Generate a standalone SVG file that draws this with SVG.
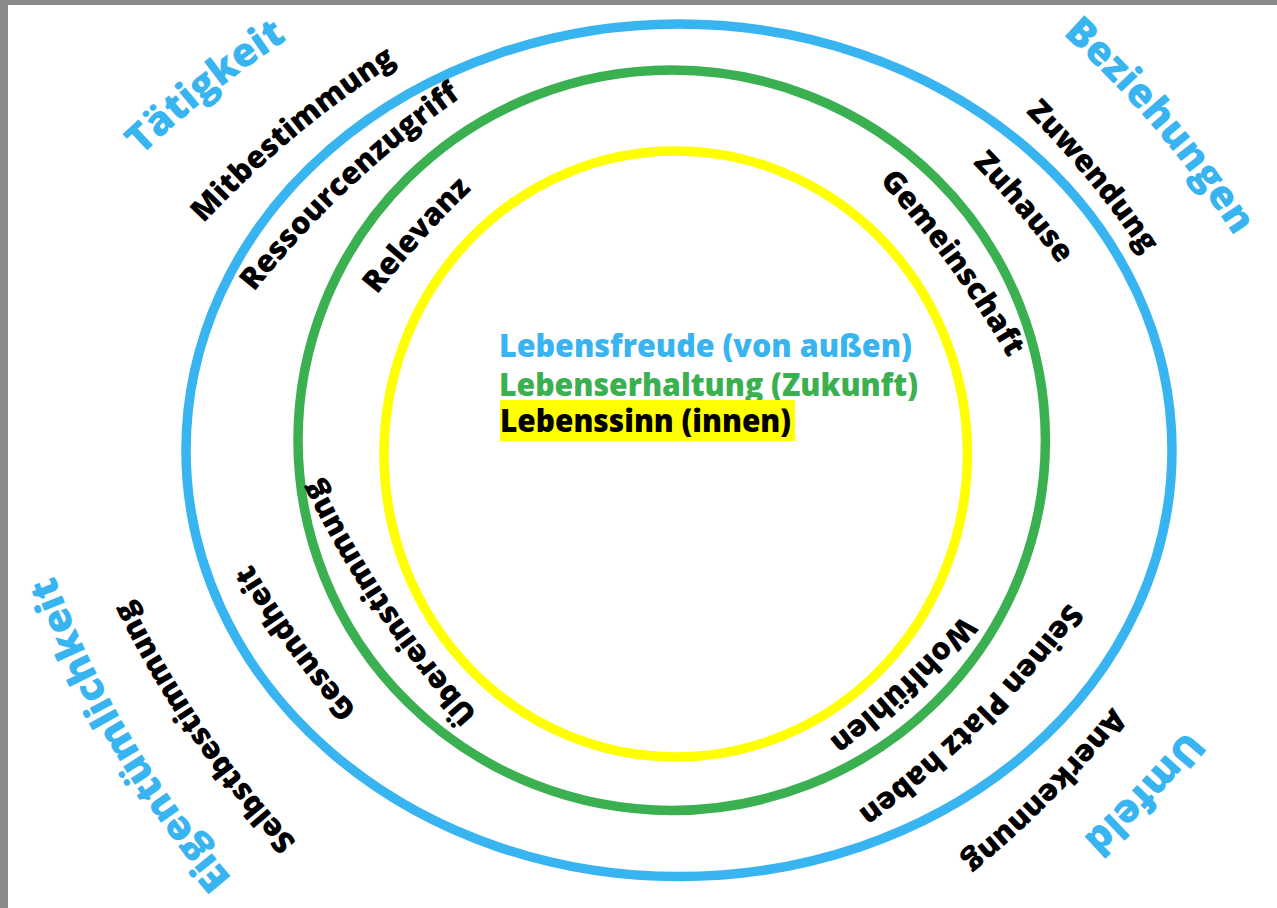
<svg xmlns="http://www.w3.org/2000/svg" width="1277" height="908" viewBox="0 0 1277 908">
<style>
.ring{fill:none;stroke-width:9.5}
.blue{stroke:#38B4F0}
.green{stroke:#3BB050}
.yellow{stroke:#FFFF00}
.lbl{font-family:"Open Sans","Liberation Sans",sans-serif;font-weight:800;fill:#000;font-size:30.5px}
.cat{font-family:"Open Sans","Liberation Sans",sans-serif;font-weight:800;fill:#38B4F0;font-size:40px}
.ctr{font-family:"Open Sans","Liberation Sans",sans-serif;font-weight:800;font-size:32px}
</style>
<defs>
<path id="p1" d="M133.1,163.8 A1000,1000 0 0 1 297.1,33.4"/>
<path id="p2" d="M194.1,233.8 A1000,1000 0 0 1 408.5,55.2"/>
<path id="p3" d="M240,309.9 A1000,1000 0 0 1 479.6,84.9"/>
<path id="p4" d="M368.4,305.9 A1000,1000 0 0 1 482,179.7"/>
<path id="p5" d="M1052,25 A1000,1000 0 0 1 1241.8,248.2"/>
<path id="p6" d="M1016.1,102.6 A1000,1000 0 0 1 1150.7,265.8"/>
<path id="p7" d="M962.5,153.1 A1000,1000 0 0 1 1067.5,276.1"/>
<path id="p8" d="M870.9,172.2 A1000,1000 0 0 1 1014.3,368.8"/>
<path id="p9" d="M238.6,885.3 A1000,1000 0 0 1 51,566.7"/>
<path id="p10" d="M305.6,851.1 A1000,1000 0 0 1 125.2,588.5"/>
<path id="p11" d="M366.4,720 A1000,1000 0 0 1 244.4,552"/>
<path id="p12" d="M493.2,730.3 A1000,1000 0 0 1 309.4,457.9"/>
<path id="p13" d="M973.8,602.7 A1000,1000 0 0 1 815.8,749.5"/>
<path id="p14" d="M1076.3,592 A1000,1000 0 0 1 846.9,819"/>
<path id="p15" d="M1119.9,697.2 A1000,1000 0 0 1 951.7,867.6"/>
<path id="p16" d="M1195,718.9 A1000,1000 0 0 1 1072,847.3"/>
</defs>
<rect x="0" y="0" width="1277" height="908" fill="#FFFFFF"/>
<rect x="0" y="0" width="1277" height="5" fill="#898989"/>
<rect x="0" y="0" width="8" height="908" fill="#898989"/>
<g id="rings">
<ellipse id="ring-outer" class="ring blue" cx="679" cy="450.3" rx="493" ry="426.3"/>
<ellipse id="ring-middle" class="ring green" cx="671.7" cy="440.2" rx="373.7" ry="370.2"/>
<ellipse id="ring-inner" class="ring yellow" cx="675.7" cy="454" rx="291.7" ry="303"/>
</g>
<g id="legend">
<text class="ctr" x="499" y="357" fill="#38B4F0" textLength="413" lengthAdjust="spacingAndGlyphs">Lebensfreude (von außen)</text>
<text class="ctr" x="499" y="396" fill="#3BB050" textLength="419" lengthAdjust="spacingAndGlyphs">Lebenserhaltung (Zukunft)</text>
<rect x="500" y="400" width="295" height="41" fill="#FFFF00"/>
<text class="ctr" x="500" y="431.5" fill="#000000" textLength="291" lengthAdjust="spacingAndGlyphs">Lebenssinn (innen)</text>
</g>
<g id="label-taetigkeit"><text class="cat"><textPath href="#p1" startOffset="50%" text-anchor="middle">Tätigkeit</textPath></text></g>
<g id="label-mitbestimmung"><text class="lbl"><textPath href="#p2" startOffset="50%" text-anchor="middle">Mitbestimmung</textPath></text></g>
<g id="label-ressourcenzugriff"><text class="lbl"><textPath href="#p3" startOffset="50%" text-anchor="middle">Ressourcenzugriff</textPath></text></g>
<g id="label-relevanz"><text class="lbl"><textPath href="#p4" startOffset="50%" text-anchor="middle">Relevanz</textPath></text></g>
<g id="label-beziehungen"><text class="cat"><textPath href="#p5" startOffset="50%" text-anchor="middle">Beziehungen</textPath></text></g>
<g id="label-zuwendung"><text class="lbl"><textPath href="#p6" startOffset="50%" text-anchor="middle">Zuwendung</textPath></text></g>
<g id="label-zuhause"><text class="lbl"><textPath href="#p7" startOffset="50%" text-anchor="middle">Zuhause</textPath></text></g>
<g id="label-gemeinschaft"><text class="lbl"><textPath href="#p8" startOffset="50%" text-anchor="middle">Gemeinschaft</textPath></text></g>
<g id="label-eigentuemlichkeit"><text class="cat"><textPath href="#p9" startOffset="50%" text-anchor="middle">Eigentümlichkeit</textPath></text></g>
<g id="label-selbstbestimmung"><text class="lbl"><textPath href="#p10" startOffset="50%" text-anchor="middle">Selbstbestimmung</textPath></text></g>
<g id="label-gesundheit"><text class="lbl"><textPath href="#p11" startOffset="50%" text-anchor="middle">Gesundheit</textPath></text></g>
<g id="label-uebereinstimmung"><text class="lbl"><textPath href="#p12" startOffset="50%" text-anchor="middle">Übereinstimmung</textPath></text></g>
<g id="label-wohlfuehlen"><text class="lbl"><textPath href="#p13" startOffset="50%" text-anchor="middle">Wohlfühlen</textPath></text></g>
<g id="label-seinen-platz"><text class="lbl"><textPath href="#p14" startOffset="50%" text-anchor="middle">Seinen Platz haben</textPath></text></g>
<g id="label-anerkennung"><text class="lbl"><textPath href="#p15" startOffset="50%" text-anchor="middle">Anerkennung</textPath></text></g>
<g id="label-umfeld"><text class="cat"><textPath href="#p16" startOffset="50%" text-anchor="middle">Umfeld</textPath></text></g>
</svg>
